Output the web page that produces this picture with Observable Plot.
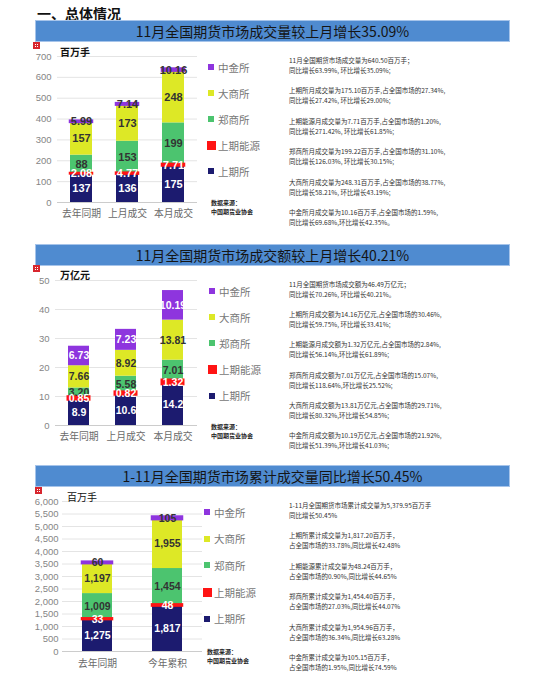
<!DOCTYPE html>
<html><head><meta charset="utf-8">
<script src="https://cdn.jsdelivr.net/npm/d3@7"></script>
<script src="https://cdn.jsdelivr.net/npm/@observablehq/plot@0.6"></script>
<style>
body{margin:0;background:#fff;font-family:"Liberation Sans","Noto Sans CJK SC",sans-serif;}
#page{position:relative;width:550px;height:692px;overflow:hidden;}
.abs{position:absolute;}
.bar{position:absolute;left:35px;width:475px;height:22px;background:#4f8bd0;border:1px solid #a6c4ea;box-sizing:border-box;color:#151515;font-size:14px;text-align:center;line-height:20px;font-family:"Noto Sans CJK SC",sans-serif;white-space:nowrap;}
.leg{position:absolute;height:14px;display:flex;align-items:center;font-size:10.5px;color:#777;font-family:"Noto Sans CJK SC",sans-serif;white-space:nowrap;}
.sw{display:inline-block;}
.note{position:absolute;left:289px;font-size:6.5px;line-height:10px;color:#333;font-family:"Noto Sans CJK SC",sans-serif;white-space:nowrap;}
.src{position:absolute;font-size:6px;font-weight:bold;line-height:8.5px;color:#222;font-family:"Noto Sans CJK SC",sans-serif;white-space:nowrap;}
.unit{position:absolute;font-family:"Noto Sans CJK SC",sans-serif;color:#111;white-space:nowrap;}
.icon{position:absolute;width:7px;height:7px;background:#d8262e;box-sizing:border-box;border:1.5px solid #d8262e;}
.icon::after{content:"";position:absolute;left:0.5px;top:0.5px;width:1.5px;height:1.5px;background:#fff;box-shadow:2px 0 #fff,0 2px #fff,2px 2px #fff;}
.plot{position:absolute;left:0;}
</style>
</head><body><div id="page"></div>
<script>
// ---------- data ----------
const series = ["上期所","上期能源","郑商所","大商所","中金所"];
const colors = ["#1c1b6f","#ff1414","#4cc46f","#dde826","#8e35de"];

// chart 1: monthly volume (百万手)
const cats1 = ["去年同期","上月成交","本月成交"];
const shfe1 = [137,136,175];
const ine1 = [2.08,4.77,7.71];
const czce1 = [88,153,199];
const dce1 = [157,173,248];
const cffex1 = [5.99,7.14,10.16];
const ticks1 = [0,100,200,300,400,500,600,700];

// chart 2: monthly turnover (万亿元)
const cats2 = ["去年同期","上月成交","本月成交"];
const shfe2 = [8.9,10.6,14.2];
const ine2 = [0.85,0.82,1.32];
const czce2 = [3.20,5.58,7.01];
const dce2 = [7.66,8.92,13.81];
const cffex2 = [6.73,7.23,10.19];
const ticks2 = [0,10,20,30,40,50];

// chart 3: Jan-Nov cumulative volume (百万手)
const cats3 = ["去年同期","今年累积"];
const shfe3 = [1275,1817];
const ine3 = [33,48];
const czce3 = [1009,1454];
const dce3 = [1197,1955];
const cffex3 = [60,105];
const ticks3 = [0,500,1000,1500,2000,2500,3000,3500,4000,4500,5000,5500,6000];

const titles = [
  "11月全国期货市场成交量较上月增长35.09%",
  "11月全国期货市场成交额较上月增长40.21%",
  "1-11月全国期货市场累计成交量同比增长50.45%"
];
const notes1 = [
  ["11月全国期货市场成交量为640.50百万手；","同比增长63.99%, 环比增长35.09%;"],
  ["上期所月成交量为175.10百万手,占全国市场的27.34%,","同比增长27.42%, 环比增长29.00%;"],
  ["上期能源月成交量为7.71百万手,占全国市场的1.20%,","同比增长271.42%, 环比增长61.85%;"],
  ["郑商所月成交量为199.22百万手,占全国市场的31.10%,","同比增长126.03%, 环比增长30.15%;"],
  ["大商所月成交量为248.31百万手,占全国市场的38.77%,","同比增长58.21%, 环比增长43.19%;"],
  ["中金所月成交量为10.16百万手,占全国市场的1.59%,","同比增长69.68%,环比增长42.35%。"]
];
const notes2 = [
  ["11月全国期货市场成交额为46.49万亿元；","同比增长70.26%, 环比增长40.21%。"],
  ["上期所月成交额为14.16万亿元,占全国市场的30.46%,","同比增长59.75%, 环比增长33.41%;"],
  ["上期能源月成交额为1.32万亿元,占全国市场的2.84%,","同比增长56.14%,环比增长61.89%;"],
  ["郑商所月成交额为7.01万亿元,占全国市场的15.07%,","同比增长118.64%,环比增长25.52%;"],
  ["大商所月成交额为13.81万亿元,占全国市场的29.71%,","同比增长80.32%,环比增长54.85%;"],
  ["中金所月成交额为10.19万亿元,占全国市场的21.92%,","同比增长51.39%,环比增长41.03%;"]
];
const notes3 = [
  ["1-11月全国期货市场累计成交量为5,379.95百万手","同比增长50.45%"],
  ["上期所累计成交量为1,817.20百万手，","占全国市场的33.78%,同比增长42.48%"],
  ["上期能源累计成交量为48.24百万手，","占全国市场的0.90%,同比增长44.65%"],
  ["郑商所累计成交量为1,454.40百万手，","占全国市场的27.03%,同比增长44.07%"],
  ["大商所累计成交量为1,954.96百万手，","占全国市场的36.34%,同比增长63.28%"],
  ["中金所累计成交量为105.15百万手，","占全国市场的1.95%,同比增长74.59%"]
];

// ---------- page ----------
const page = document.getElementById("page");
function add(cls, html, style) {
  const d = document.createElement("div");
  d.className = cls; d.innerHTML = html; Object.assign(d.style, style || {});
  page.appendChild(d); return d;
}
add("abs", "一、总体情况", {left:"37px", top:"4px", fontSize:"14px", fontWeight:"bold", color:"#111", fontFamily:'"Noto Sans CJK SC",sans-serif', lineHeight:"18px"});

const font = '"Liberation Sans","Noto Sans CJK SC",sans-serif';

function makeChart(cfg) {
  const data = [];
  cfg.cats.forEach((c, i) => series.forEach((s, j) => data.push({cat: c, series: s, value: cfg.cols[j][i]})));
  const stack = extra => Plot.stackY({x: "cat", y: "value", z: "series", order: series, ...extra});
  const isWhite = d => cfg.white.includes(d.series);
  const svg = Plot.plot({
    width: cfg.width, height: cfg.height,
    marginTop: cfg.mt, marginBottom: cfg.mb, marginLeft: cfg.ml, marginRight: cfg.mr,
    style: {fontFamily: font, fontSize: "9.5px", color: "#858585", background: "transparent", overflow: "visible"},
    x: {domain: cfg.cats, paddingInner: cfg.pad, paddingOuter: cfg.pad / 2, label: null, tickSize: 0, tickPadding: cfg.xpad},
    y: {domain: [cfg.ticks[0], cfg.ticks[cfg.ticks.length - 1]], ticks: cfg.ticks, tickFormat: cfg.yFmt, label: null, tickSize: 0, tickPadding: cfg.ypad},
    color: {domain: series, range: colors},
    marks: [
      Plot.ruleY(cfg.ticks, {stroke: "#e4e4e4"}),
      Plot.ruleY([0], {stroke: "#cccccc"}),
      Plot.barY(data, stack({fill: "series"})),
      Plot.barY(data, Plot.filter(d => cfg.thick.includes(d.series), stack({fill: "series", stroke: "series", strokeWidth: cfg.sw}))),
      Plot.text(data, Plot.filter(d => !isWhite(d), stack({text: d => cfg.fmt(d), fill: "#333333", fontSize: cfg.fs, fontWeight: "bold"}))),
      Plot.text(data, Plot.filter(isWhite, stack({text: d => cfg.fmt(d), fill: "#ffffff", fontSize: cfg.fs, fontWeight: "bold"})))
    ]
  });
  svg.classList.add("plot");
  svg.style.top = cfg.top + "px";
  svg.querySelectorAll('g[aria-label^="x-axis"] text').forEach(t => { t.setAttribute("font-size", "9.8px"); t.style.fontSize = "9.8px"; t.setAttribute("fill", "#6a6a6a"); });
  page.appendChild(svg);
}

function section(k, cfg) {
  add("bar", titles[k], {top: cfg.barTop + "px"});
  add("icon", "", {left: cfg.icon[0] + "px", top: cfg.icon[1] + "px"});
  makeChart(cfg);
  add("unit", cfg.unit, {left: cfg.unitPos[0] + "px", top: (cfg.unitPos[1] - 7) + "px", fontSize: cfg.unitSize, fontWeight: cfg.unitWeight, lineHeight: "14px"});
  // legend (top to bottom: reverse stacking order)
  const legOrder = [4,3,2,1,0];
  legOrder.forEach((j, r) => {
    const big = j === 1;
    const sz = big ? 9 : 6;
    add("leg", `<span class="sw" style="width:${sz}px;height:${sz}px;background:${colors[j]};margin-left:${big ? 0 : 0.5}px;margin-right:${big ? 2 : 4.5}px"></span>${series[j]}`,
      {left: cfg.leg[0] + "px", top: (cfg.leg[1] + r * cfg.leg[2] - 7) + "px"});
  });
  add("src", "数据来源：<br>中国期货业协会", {left: cfg.src[0] + "px", top: (cfg.src[1] - 4) + "px"});
  cfg.notes.forEach((p, i) => add("note", p.join("<br>"), {top: (cfg.noteTop + i * cfg.noteGap - 5) + "px"}));
}

section(0, {
  barTop: 20, icon: [33, 42], unit: "百万手", unitPos: [60, 52], unitSize: "10px", unitWeight: "bold",
  top: 44, width: 200, height: 180, mt: 12, mb: 22, ml: 57, mr: 3, pad: 0.53, xpad: 8, ypad: 6,
  cats: cats1, cols: [shfe1, ine1, czce1, dce1, cffex1], ticks: ticks1, yFmt: d3.format("d"),
  white: ["上期所","上期能源"], thick: ["上期能源","中金所"], sw: 2.5, fs: 11,
  fmt: d => d.value < 20 ? d.value.toFixed(2) : String(d.value),
  leg: [207, 67, 26], src: [211, 203], notes: notes1, noteTop: 60, noteGap: 30.4
});
section(1, {
  barTop: 244, icon: [33, 265], unit: "万亿元", unitPos: [60, 275], unitSize: "10px", unitWeight: "bold",
  top: 266, width: 200, height: 180, mt: 14, mb: 21, ml: 55, mr: 3, pad: 0.55, xpad: 8, ypad: 6,
  cats: cats2, cols: [shfe2, ine2, czce2, dce2, cffex2], ticks: ticks2, yFmt: d3.format("d"),
  white: ["上期所","上期能源","中金所"], thick: ["上期能源"], sw: 3, fs: 10.5,
  fmt: d => d.series === "上期所" ? d.value.toFixed(1) : d.value.toFixed(2),
  leg: [208, 291, 26.2], src: [211, 427], notes: notes2, noteTop: 284, noteGap: 30.2
});
section(2, {
  barTop: 465, icon: [35, 487], unit: "百万手", unitPos: [67, 497], unitSize: "10px", unitWeight: "normal",
  top: 487, width: 205, height: 190, mt: 14, mb: 26, ml: 62, mr: 3, pad: 0.57, xpad: 9, ypad: 4,
  cats: cats3, cols: [shfe3, ine3, czce3, dce3, cffex3], ticks: ticks3, yFmt: d3.format(","),
  white: ["上期所","上期能源"], thick: ["上期能源","中金所"], sw: 2.5, fs: 10.5,
  fmt: d => d3.format(",")(d.value),
  leg: [203, 512, 26.7], src: [207, 652], notes: notes3, noteTop: 505, noteGap: 30.4
});
</script>
</body></html>
